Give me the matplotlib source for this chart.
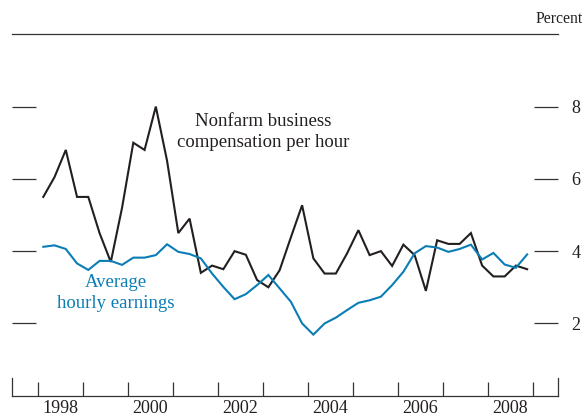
import numpy as np
import matplotlib
matplotlib.use("Agg")
import matplotlib.pyplot as plt

plt.rcParams['font.family'] = ['Liberation Serif', 'DejaVu Serif']

# Quarterly, 1998:Q1 - 2008:Q4 (plotted at mid-quarter)
start_year = 1998
n_quarters = 44
quarters = start_year + (np.arange(n_quarters) + 0.5) / 4.0

# Nonfarm business compensation per hour (percent change)
compensation = [5.5, 6.05, 6.8, 5.5, 5.5, 4.5, 3.7, 5.2, 7.0, 6.8, 8.0, 6.5,
                4.5, 4.9, 3.4, 3.6, 3.5, 4.0, 3.9, 3.2, 3.0, 3.47, 4.38, 5.27,
                3.8, 3.38, 3.38, 3.94, 4.58, 3.89, 4.0, 3.59, 4.18, 3.89, 2.9, 4.3,
                4.2, 4.2, 4.5, 3.6, 3.3, 3.3, 3.6, 3.5]

# Average hourly earnings (percent change)
earnings = [4.12, 4.16, 4.06, 3.66, 3.48, 3.73, 3.73, 3.62, 3.82, 3.82, 3.89, 4.19,
            3.98, 3.92, 3.80, 3.38, 3.01, 2.67, 2.81, 3.06, 3.34, 2.97, 2.60, 2.0,
            1.69, 2.0, 2.16, 2.37, 2.57, 2.64, 2.74, 3.06, 3.43, 3.94, 4.14, 4.10,
            3.98, 4.06, 4.18, 3.77, 3.95, 3.63, 3.54, 3.91]

year_labels = ['1998', '2000', '2002', '2004', '2006', '2008']
y_ticks = [2, 4, 6, 8]

BLACK = '#231f20'
BLUE = '#0a7db6'
AXC = '#333333'

W, H = 585, 417
fig = plt.figure(figsize=(W / 100, H / 100), dpi=100)
ax = fig.add_axes([12 / W, (H - 395.7) / H, 546 / W, 361.4 / H])

ax.plot(quarters, compensation, color=BLACK, lw=1.5, solid_joinstyle='miter')
ax.plot(quarters, earnings, color=BLUE, lw=1.5, solid_joinstyle='miter')

ax.set_xlim(1997.43, 2009.56)
ax.set_ylim(0, 10)

for s in ['top', 'bottom', 'left', 'right']:
    ax.spines[s].set_color(AXC)
    ax.spines[s].set_linewidth(0.9)
ax.spines['left'].set_bounds(0, 0.5)
ax.spines['right'].set_bounds(0, 0.5)

# x ticks at year boundaries, labels centered in even years
ax.set_xticks(np.arange(1998, 2010))
ax.tick_params(axis='x', which='major', direction='in', length=10, width=0.9,
               color=AXC, labelbottom=False)
ax.set_xticks([int(y) + 0.5 for y in year_labels], minor=True)
ax.set_xticklabels(year_labels, minor=True)
ax.tick_params(axis='x', which='minor', length=0, pad=3, labelsize=13,
               labelcolor=BLACK)

# y ticks: left inner ticks, right inner ticks with labels
ax.set_yticks(y_ticks)
ax.set_yticklabels([str(v) for v in y_ticks])
ax.tick_params(axis='y', which='major', direction='in', length=17, width=0.9,
               color=AXC, left=True, right=True, labelleft=False,
               labelright=True, pad=9.5, labelsize=13, labelcolor=BLACK)

ax.text(2003.0, 7.29, 'Nonfarm business\ncompensation per hour',
        ha='center', va='center', fontsize=13.5, color=BLACK, linespacing=1.3)
ax.text(1999.74, 2.83, 'Average\nhourly earnings',
        ha='center', va='center', fontsize=13.5, color=BLUE, linespacing=1.3)

fig.text(583 / W, 1 - 19 / H, 'Percent', ha='right', va='center',
         fontsize=11.3, color=BLACK)

fig.savefig('out.png', dpi=100)
